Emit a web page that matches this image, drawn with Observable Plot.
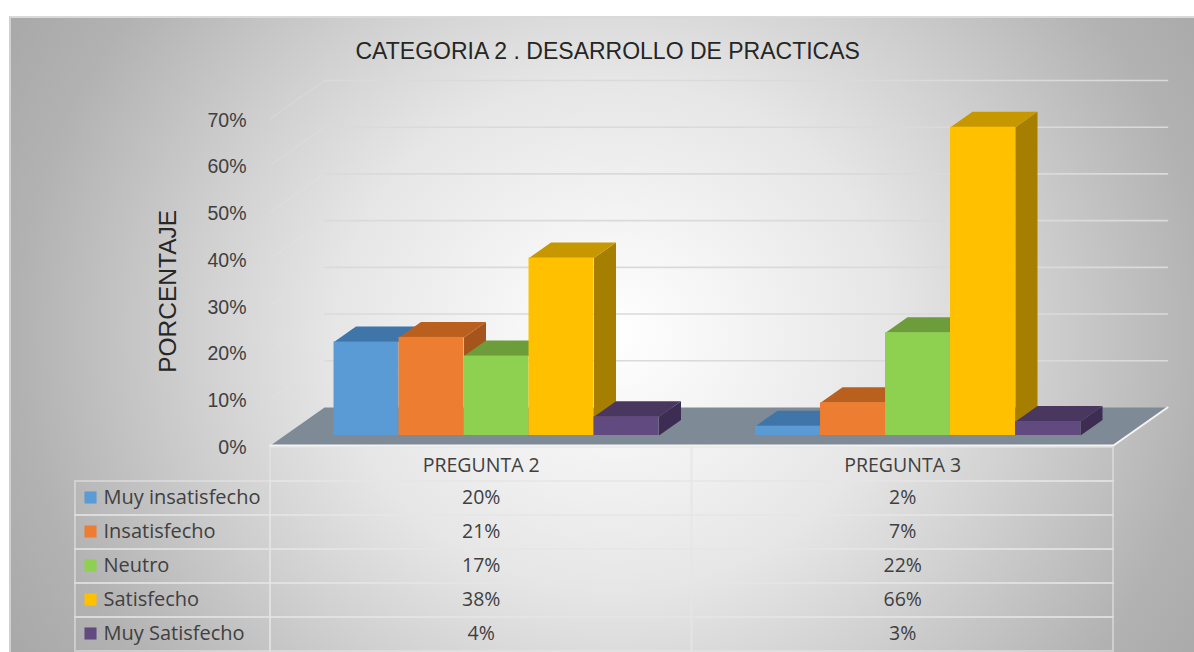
<!DOCTYPE html>
<html lang="es">
<head>
<meta charset="utf-8">
<title>Categoría 2. Desarrollo de prácticas</title>
<script src="https://cdn.jsdelivr.net/npm/d3@7"></script>
<script src="https://cdn.jsdelivr.net/npm/@observablehq/plot@0.6"></script>
<style>
  html, body { margin: 0; padding: 0; background: #fff; }
  #chart { position: relative; width: 1194px; height: 652px; overflow: hidden; }
  #panel {
    position: absolute; left: 9px; top: 16px; right: 0; bottom: 0;
    border-top: 2px solid #d9d9d9; border-left: 2px solid #d0d0d0; box-sizing: border-box;
    background: radial-gradient(ellipse 700px 640px at 51% 50%, #ffffff 0%, #e6e6e6 40%, #d0d0d0 60%, #b2b2b2 85%, #a8a8a8 100%);
  }
  #chart svg { position: absolute; left: 0; }
</style>
</head>
<body>
<div id="chart"><div id="panel"></div></div>
<script>
// Survey results
const titulo = "CATEGORIA 2 . DESARROLLO DE PRACTICAS";
const etiquetaEje = "PORCENTAJE";
const preguntas = ["PREGUNTA 2", "PREGUNTA 3"];
const categorias = ["Muy insatisfecho", "Insatisfecho", "Neutro", "Satisfecho", "Muy Satisfecho"];
const pregunta2 = [20, 21, 17, 38, 4];
const pregunta3 = [2, 7, 22, 66, 3];
const valores = [pregunta2, pregunta3];
const marcasEje = [0, 10, 20, 30, 40, 50, 60, 70];

// Face colours of each series
const coloresFrente = ["#5b9bd5", "#ed7d31", "#8ed04f", "#ffc000", "#604a80"];
const coloresTecho = ["#3f75a8", "#b9601f", "#6d9c3a", "#c79700", "#4a3760"];
const coloresLado = ["#3a6c9c", "#a5551b", "#5f8a32", "#a67e00", "#3d2d52"];

// Oblique projection: depth z in [0, 1] shifts a point right and up, in scale units
const escalaX = {domain: [0, 2], range: [270, 1113], axis: null};
const escalaY = {domain: [0, 70], range: [445, 118]};
const fondoX = 54 / 421.5;
const fondoY = 38 / 4.67;
const pt = (u, v, z) => ({x: u + z * fondoX, y: v + z * fondoY});

const z0 = 0.263, z1 = 0.67;       // depth span of the bars
const anchoBarra = 65 / 421.5;
const hueco = 0.117;

const cara = (puntos, fill) =>
  Plot.line(puntos, {x: "x", y: "y", fill, stroke: "none", curve: "linear-closed"});

// Floor of the 3D box
const suelo = cara([pt(0, 0, 0), pt(2, 0, 0), pt(2, 0, 1), pt(0, 0, 1)], "#7f8a97");
const bordeSuelo = Plot.line([pt(0, 0, 0), pt(2, 0, 0), pt(2, 0, 1)], {
  x: "x", y: "y", stroke: "#f4f4f4", strokeWidth: 2
});

// Gridlines along the back wall and the left wall
const lineasRejilla = marcasEje.slice(1).flatMap((t) => [
  Plot.line([pt(0, t, 1), pt(2, t, 1)], {x: "x", y: "y", stroke: "#dadada", strokeWidth: 1.6}),
  Plot.line([pt(0, t, 0), pt(0, t, 1)], {x: "x", y: "y", stroke: "#e4e4e4", strokeWidth: 1.4, strokeOpacity: 0.3})
]);

// One box per value, painted left to right so nearer faces cover the previous box
const barras = valores.flatMap((serie, g) => serie.flatMap((v, s) => {
  const a = g + hueco + s * anchoBarra;
  const b = a + anchoBarra;
  return [
    cara([pt(b, 0, z0), pt(b, 0, z1), pt(b, v, z1), pt(b, v, z0)], coloresLado[s]),
    cara([pt(a, v, z0), pt(b, v, z0), pt(b, v, z1), pt(a, v, z1)], coloresTecho[s]),
    Plot.rect([v], {
      x1: pt(a, 0, z0).x,
      x2: pt(b, 0, z0).x,
      y1: pt(a, 0, z0).y,
      y2: (d) => pt(a, d, z0).y,
      fill: coloresFrente[s]
    })
  ];
}));

const grafico = Plot.plot({
  width: 1194,
  height: 652,
  marginTop: 0,
  marginLeft: 246,
  marginRight: 0,
  marginBottom: 0,
  style: {background: "transparent", fontFamily: "'Liberation Sans', sans-serif"},
  x: escalaX,
  y: escalaY,
  marks: [
    ...lineasRejilla,
    suelo,
    bordeSuelo,
    ...barras,
    Plot.axisY({
      ticks: marcasEje,
      tickFormat: (d) => d + "%",
      tickSize: 0,
      tickPadding: 0,
      label: null,
      dy: 2,
      fontSize: 19.5,
      color: "#404040"
    }),
    Plot.text([etiquetaEje], {
      x: -0.242, y: 33, text: (d) => d, rotate: -90,
      fontSize: 24.5, fill: "#262626"
    }),
    Plot.text([titulo], {
      x: 0.8, frameAnchor: "top", dy: 51, text: (d) => d,
      fontSize: 23, fill: "#262626", lineAnchor: "middle"
    })
  ]
});
grafico.style.top = "0";

// Data table under the plot, columns aligned with the same x scale
const filas = ["encabezado", ...categorias];
const columnaEtiquetas = [-0.4626, 0];
const celdas = filas.flatMap((fila, r) => [
  ...(r > 0 ? [{fila, x1: columnaEtiquetas[0], x2: columnaEtiquetas[1]}] : []),
  {fila, x1: 0, x2: 1},
  {fila, x1: 1, x2: 2}
]);
const textosValor = valores.flatMap((serie, g) => serie.map((v, s) => ({
  fila: categorias[s], u: g + 0.5, texto: v + "%"
})));
const encabezados = preguntas.map((p, g) => ({fila: "encabezado", u: g + 0.5, texto: p}));

const tabla = Plot.plot({
  width: 1194,
  height: 206,
  margin: 0,
  style: {background: "transparent", fontFamily: "'Open Sans', sans-serif"},
  x: escalaX,
  y: {type: "band", domain: filas, range: [0, 205], padding: 0, axis: null},
  marks: [
    Plot.barX(celdas, {x1: "x1", x2: "x2", y: "fila", fill: "none", stroke: "#e6e6e6", strokeOpacity: 0.55, strokeWidth: 2}),
    Plot.text(encabezados, {
      x: "u", y: "fila", dy: 1, text: "texto", fontSize: 19.5, fill: "#404040"
    }),
    Plot.text(textosValor, {
      x: "u", y: "fila", dy: -1, text: "texto", fontSize: 19.5, fill: "#404040"
    }),
    Plot.text(categorias, {
      x: 0, dx: -167, y: (d) => d, dy: -1, text: (d) => d, textAnchor: "start", fontSize: 20, fill: "#404040"
    }),
    Plot.dot(categorias, {
      x: 0, dx: -180, y: (d) => d, dy: -1, symbol: "square", r: 6.8, fill: (d, i) => coloresFrente[i]
    })
  ]
});
tabla.style.top = "446px";

document.getElementById("chart").append(grafico, tabla);
</script>
</body>
</html>
